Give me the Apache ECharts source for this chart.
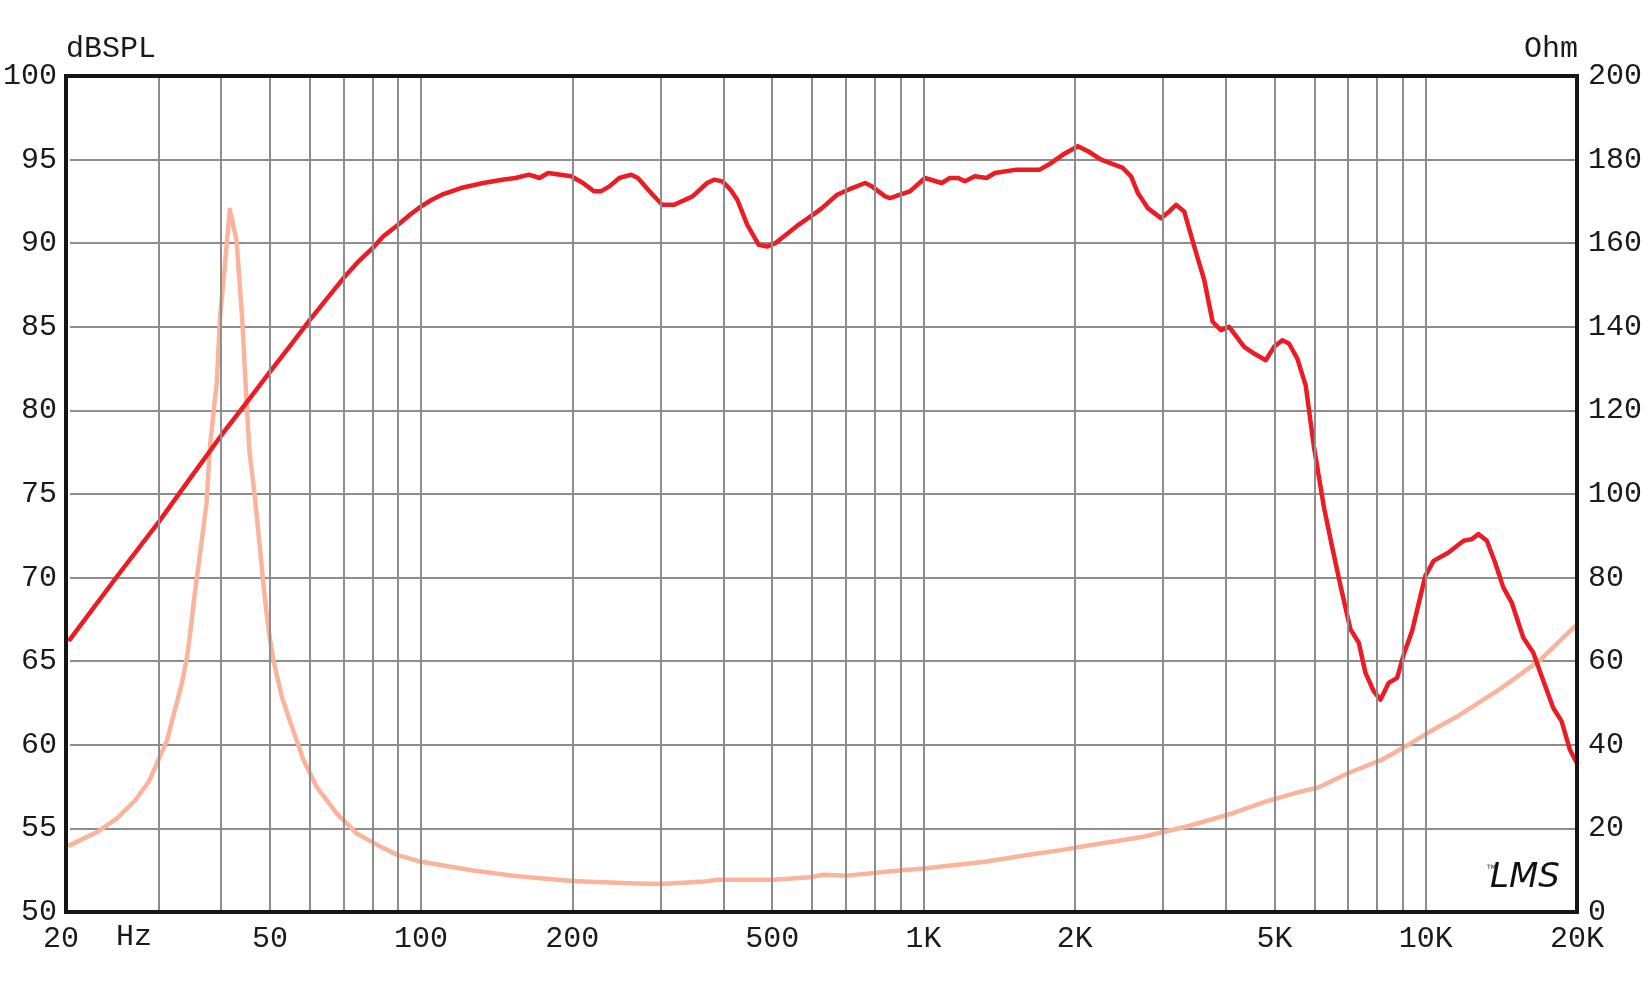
<!DOCTYPE html>
<html>
<head>
<meta charset="utf-8">
<script src="https://cdn.jsdelivr.net/npm/echarts@6/dist/echarts.min.js"></script>
<style>
html,body{margin:0;padding:0;background:#fff;}
#chart{width:1649px;height:985px;}
</style>
</head>
<body>
<div id="chart"></div>
<script>
// ---- Data ----
const splFreq = [20,25,30,35,40,45,50,55,60,65,70,75,80,84,90,95,100,105,110,120,133,145,154,164,172,179,199,210,221,228,237,248,262,270,289,302,319,347,371,383,398,413,426,446,470,488,507,564,609,628,673,709,765,789,839,858,898,940,1007,1087,1129,1173,1209,1266,1335,1387,1532,1704,1797,1896,2030,2126,2258,2494,2590,2672,2796,2970,3086,3182,3304,3460,3622,3764,3910,4060,4350,4552,4802,4988,5182,5342,5550,5766,5990,6270,6514,6766,7082,7356,7584,7878,8122,8436,8768,9038,9390,9978,10364,11100,11890,12350,12730,13230,13740,14270,14830,15640,16370,17010,17940,18640,19360,20000];
const splDb = [66.3,70.2,73.3,76.1,78.5,80.5,82.3,83.9,85.4,86.7,87.9,88.9,89.7,90.4,91.1,91.7,92.2,92.6,92.9,93.3,93.6,93.8,93.9,94.1,93.9,94.2,94.0,93.6,93.1,93.1,93.4,93.9,94.1,93.9,92.9,92.3,92.3,92.8,93.6,93.8,93.7,93.2,92.6,91.1,89.9,89.8,90.0,91.1,91.8,92.1,92.9,93.2,93.6,93.4,92.8,92.7,92.9,93.1,93.9,93.6,93.9,93.9,93.7,94.0,93.9,94.2,94.4,94.4,94.8,95.3,95.8,95.5,95.0,94.5,94.0,93.0,92.1,91.5,91.9,92.3,91.9,89.8,87.8,85.3,84.8,85.0,83.8,83.4,83.0,83.8,84.2,84.0,83.1,81.5,77.8,74.2,71.8,69.5,66.9,66.1,64.3,63.2,62.7,63.7,64.0,65.4,66.8,70.1,71.0,71.5,72.2,72.3,72.6,72.2,70.9,69.4,68.5,66.4,65.5,64.1,62.2,61.4,59.7,58.9];

const impFreq = [20,22.7,24.8,27.0,28.7,30.0,31.2,32.2,33.4,34.2,34.7,35.3,37.4,38.0,39.2,39.8,40.6,41.6,42.9,44.0,44.9,45.5,46.6,48.9,49.8,50.8,52.8,55.3,58.3,61.9,67.9,74.4,83.7,90,100,126,154,200,259,300,367,389,502,594,633,703,906,1002,1326,1646,1880,2030,2100,2740,3330,4020,4800,5630,6110,7000,8200,9440,10440,11600,14120,16900,19640,20000];
const impOhm = [16.0,19.2,22.4,26.8,31.2,36.4,41.1,47.5,54.7,61.1,66.7,74.6,97.8,111.6,126.8,142.6,153.6,168.0,160.8,142.6,122.5,110.5,100.0,74.6,66.7,60.3,51.5,44.3,36.4,30.0,23.6,18.8,15.4,13.6,12.0,10.0,8.6,7.4,6.9,6.7,7.3,7.7,7.7,8.3,8.9,8.7,10.0,10.4,12.0,13.8,14.8,15.5,15.8,18.0,20.4,23.2,26.4,28.8,29.8,33.2,36.5,40.7,43.9,46.9,53.5,60.3,67.9,68.6];

const xLabelValues = [20,50,100,200,500,1000,2000,5000,10000,20000];
const xLabelTexts = ['20','50','100','200','500','1K','2K','5K','10K','20K'];
const xGridValues = [30,40,50,60,70,80,90,100,200,300,400,500,600,700,800,900,1000,2000,3000,4000,5000,6000,7000,8000,9000,10000];

const FONT = 'Liberation Mono';
const TXT = '#1a1a1a';
const GRID = '#8c8d8f';

const splData = splFreq.map((f, i) => [f, splDb[i]]);
const impData = impFreq.map((f, i) => [f, impOhm[i]]);

const chart = echarts.init(document.getElementById('chart'), null, {renderer: 'canvas'});
chart.setOption({
  animation: false,
  backgroundColor: '#ffffff',
  grid: {left: 66, top: 76, width: 1511, height: 836, show: false},
  xAxis: {
    type: 'log', logBase: 10, min: 20, max: 20000,
    axisLine: {show: false}, axisTick: {show: false}, splitLine: {show: false}, minorSplitLine: {show: false},
    axisLabel: {
      customValues: xLabelValues,
      margin: 12,
      fontFamily: FONT, fontSize: 30, color: TXT,
      formatter: function (v) {
        let idx = -1;
        for (let i = 0; i < xLabelValues.length; i++) { if (Math.abs(xLabelValues[i] - v) / xLabelValues[i] < 1e-6) idx = i; }
        if (idx < 0) return '';
        if (idx === 0) return '{l|' + xLabelTexts[idx] + '}';
        return xLabelTexts[idx];
      },
      rich: {l: {fontFamily: FONT, fontSize: 30, color: TXT, padding: [0, 18, 0, 0]}}
    }
  },
  yAxis: [
    {
      type: 'value', min: 50, max: 100, interval: 5, position: 'left',
      axisLine: {show: false}, axisTick: {show: false},
      splitLine: {show: true, showMinLine: false, showMaxLine: false, lineStyle: {color: GRID, width: 2}},
      axisLabel: {fontFamily: FONT, fontSize: 30, color: TXT, margin: 13}
    },
    {
      type: 'value', min: 0, max: 200, interval: 20, position: 'right',
      axisLine: {show: false}, axisTick: {show: false}, splitLine: {show: false},
      axisLabel: {fontFamily: FONT, fontSize: 30, color: TXT, margin: 11}
    }
  ],
  series: [
    {
      type: 'line', name: 'grid', data: [], z: 1, silent: true,
      markLine: {
        silent: true, symbol: ['none', 'none'], animation: false,
        label: {show: false},
        lineStyle: {color: GRID, width: 2, type: 'solid'},
        emphasis: {disabled: true},
        data: xGridValues.map(v => ({xAxis: v}))
      }
    },
    {
      type: 'line', name: 'Impedance', yAxisIndex: 1, data: impData, z: 3,
      showSymbol: false, symbol: 'none', smooth: false,
      lineStyle: {color: '#f9b49b', width: 4.5, join: 'round', cap: 'round'}
    },
    {
      type: 'line', name: 'SPL', yAxisIndex: 0, data: splData, z: 4,
      showSymbol: false, symbol: 'none', smooth: false,
      lineStyle: {color: '#ec1c24', width: 4.5, join: 'round', cap: 'round'}
    }
  ],
  graphic: [
    {type: 'rect', z: 100, silent: true, shape: {x: 66, y: 76, width: 1511, height: 836},
     style: {fill: 'none', stroke: '#151515', lineWidth: 4}},
    {type: 'text', z: 100, left: 66, top: 34, style: {text: 'dBSPL', fontFamily: FONT, fontSize: 30, fill: TXT}},
    {type: 'text', z: 100, right: 71, top: 34, style: {text: 'Ohm', fontFamily: FONT, fontSize: 30, fill: TXT}},
    {type: 'text', z: 100, left: 116, top: 922, style: {text: 'Hz', fontFamily: FONT, fontSize: 30, fill: TXT}},
    {type: 'text', z: 100, left: 1490, top: 861, style: {text: 'LMS', fontFamily: 'DejaVu Sans', fontSize: 34, fontStyle: 'italic', fontWeight: 'normal', fill: '#111'}},
    {type: 'text', z: 100, left: 1487, top: 864, style: {text: 'TM', fontFamily: 'DejaVu Sans', fontSize: 6, fill: '#111'}}
  ]
});
</script>
</body>
</html>
